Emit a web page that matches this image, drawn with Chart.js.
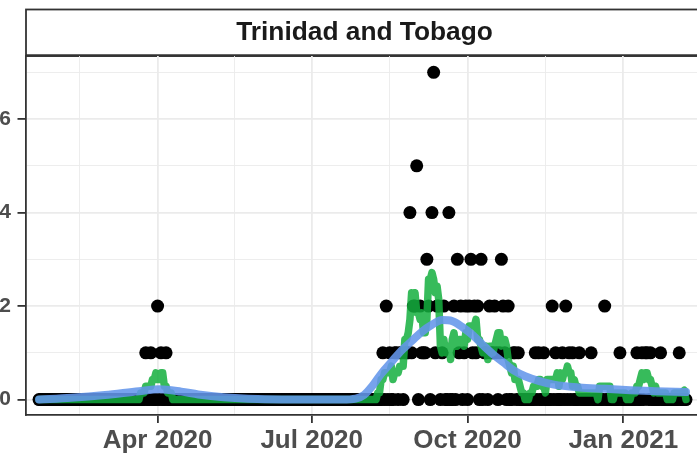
<!DOCTYPE html>
<html>
<head>
<meta charset="utf-8">
<script src="https://cdn.jsdelivr.net/npm/chart.js@4"></script>
<style>
  html, body { margin: 0; padding: 0; background: #fff; overflow: hidden; }
  canvas { display: block; }
</style>
</head>
<body>
<canvas id="deathsChart" width="697" height="454"></canvas>
<script>
// daily deaths, one value per day starting 2020-01-22 (day 21 counted from 2020-01-01)
const firstDay = 21;
const dailyDeaths = [
    0,0,0,0,0,0,0,0,0,0,
    0,0,0,0,0,0,0,0,0,0,
    0,0,0,0,0,0,0,0,0,0,
    0,0,0,0,0,0,0,0,0,0,
    0,0,0,0,0,0,0,0,0,0,
    0,0,0,0,0,0,0,0,0,0,
    0,0,0,1,0,0,1,0,0,0,
    2,0,1,0,0,1,0,0,0,0,
    0,0,0,0,0,0,0,0,0,0,
    0,0,0,0,0,0,0,0,0,0,
    0,0,0,0,0,0,0,0,0,0,
    0,0,0,0,0,0,0,0,0,0,
    0,0,0,0,0,0,0,0,0,0,
    0,0,0,0,0,0,0,0,0,0,
    0,0,0,0,0,0,0,0,0,0,
    0,0,0,0,0,0,0,0,0,0,
    0,0,0,0,0,0,0,0,0,0,
    0,0,0,0,0,0,0,0,0,0,
    0,0,0,0,0,0,0,0,0,0,
    0,0,0,0,0,0,0,0,0,0,
    0,0,0,1,0,2,0,1,0,0,
    1,1,0,1,1,0,1,1,1,4,
    1,2,2,5,0,2,1,1,1,3,
    2,0,4,7,1,2,2,0,1,2,
    0,0,4,0,0,2,0,3,1,2,
    0,1,2,0,2,3,1,2,1,2,
    0,3,0,1,1,0,2,1,1,2,
    1,0,1,3,2,1,0,2,0,0,
    1,1,0,1,0,0,0,0,0,0,
    0,0,0,1,0,1,0,0,1,0,
    0,0,0,2,0,1,0,0,0,1,
    0,2,0,1,0,1,0,0,0,1,
    0,0,0,0,0,0,1,0,0,0,
    0,0,0,0,2,0,0,0,0,0,
    0,0,0,1,0,0,0,0,0,0,
    0,0,0,1,0,0,1,0,1,1,
    0,1,0,0,0,0,0,1,0,0,
    0,0,0,0,0,0,0,0,1,0,
    0,0,0
];

// smooth trend (blue)
const smoothDays = [21, 40, 60, 80, 92, 105, 115, 130, 150, 170, 200, 208, 213, 218, 223, 229, 235, 241, 247, 253, 259, 265, 271, 277, 283, 289, 295, 301, 308, 316, 325, 340, 355, 370, 385, 403];
const smoothValues = [0, 0.04, 0.1, 0.18, 0.22, 0.17, 0.11, 0.05, 0.01, 0, 0, 0.02, 0.1, 0.3, 0.55, 0.8, 1.05, 1.25, 1.45, 1.6, 1.7, 1.68, 1.55, 1.38, 1.17, 0.97, 0.8, 0.63, 0.5, 0.4, 0.32, 0.26, 0.23, 0.2, 0.18, 0.16];

// axis ticks (days from 2020-01-01); empty label = minor grid line
const xTickDays = [45, 91, 136.5, 182, 228, 274, 320, 366];
const xTickLabels = ['', 'Apr 2020', '', 'Jul 2020', '', 'Oct 2020', '', 'Jan 2021'];
const yTickValues = [0, 1, 2, 3, 4, 5, 6, 7];
const yTickLabels = ['0', '', '2', '', '4', '', '6', ''];
const panelTitle = 'Trinidad and Tobago';

// centred 7 day average
function rollingMean(vals, k) {
    const h = Math.floor(k / 2);
    return vals.map((_, i) => {
        let s = 0, n = 0;
        for (let j = i - h; j <= i + h; j++) {
            if (j >= 0 && j < vals.length) { s += vals[j]; n++; }
        }
        return s / n;
    });
}

const avgDeaths = rollingMean(dailyDeaths, 7);
const dotPoints = dailyDeaths.map((v, i) => ({ x: firstDay + i, y: v }));
const avgPoints = avgDeaths.map((v, i) => ({ x: firstDay + i, y: v }));
const smoothPoints = smoothDays.map((d, i) => ({ x: d, y: smoothValues[i] }));

Chart.defaults.font.family = '"Liberation Sans", Arial, sans-serif';

// facet strip above the panel
const facetStrip = {
    id: 'facetStrip',
    beforeDraw(chart) {
        const { ctx, chartArea } = chart;
        ctx.save();
        ctx.strokeStyle = '#333333';
        ctx.lineWidth = 1.8;
        ctx.strokeRect(chartArea.left, 9.5, chart.width + 20, chartArea.top - 9.5);
        ctx.lineWidth = 2.6;
        ctx.beginPath();
        ctx.moveTo(chartArea.left, chartArea.top - 0.5);
        ctx.lineTo(chart.width + 5, chartArea.top - 0.5);
        ctx.stroke();
        ctx.fillStyle = '#1A1A1A';
        ctx.font = 'bold 26.3px "Liberation Sans", Arial, sans-serif';
        ctx.textAlign = 'center';
        ctx.textBaseline = 'middle';
        ctx.fillText(panelTitle, 364.5, 33);
        ctx.restore();
    }
};

const isMajorX = v => xTickLabels[xTickDays.indexOf(v)] !== '';
const isMajorY = v => v % 2 === 0;

const deathsChart = document.getElementById('deathsChart');

new Chart(deathsChart, {
    type: 'scatter',
    data: {
        datasets: [{
                label: 'smooth',
                data: smoothPoints,
                showLine: true,
                borderColor: 'rgba(100,150,235,0.88)',
                borderWidth: 8,
                pointRadius: 0,
                cubicInterpolationMode: 'monotone',
                borderCapStyle: 'round',
                borderJoinStyle: 'round',
                order: 1
            },
            {
                label: '7 day average',
                data: avgPoints,
                showLine: true,
                borderColor: 'rgba(20,175,62,0.85)',
                borderWidth: 7.5,
                pointRadius: 0,
                borderCapStyle: 'round',
                borderJoinStyle: 'round',
                order: 2
            },
            {
                label: 'daily deaths',
                data: dotPoints,
                backgroundColor: '#000000',
                borderWidth: 0,
                pointRadius: 6.5,
                order: 3
            }
        ]
    },
    options: {
        responsive: false,
        animation: false,
        layout: {
            autoPadding: false,
            padding: { top: 56, left: 0, right: 0, bottom: 0 }
        },
        plugins: {
            legend: { display: false },
            tooltip: { enabled: false }
        },
        scales: {
            x: {
                type: 'linear',
                min: 13.3,
                max: 409.5,
                afterBuildTicks: s => { s.ticks = xTickDays.map(v => ({ value: v })); },
                afterFit: s => { s.height = 39; },
                ticks: {
                    autoSkip: false,
                    maxRotation: 0,
                    padding: 2,
                    color: '#4D4D4D',
                    font: { size: 26, weight: 'bold' },
                    callback: v => xTickLabels[xTickDays.indexOf(v)]
                },
                grid: {
                    color: '#EBEBEB',
                    lineWidth: c => (c.tick && isMajorX(c.tick.value)) ? 1.8 : 0.9,
                    tickColor: c => (c.tick && isMajorX(c.tick.value)) ? '#333333' : 'rgba(0,0,0,0)',
                    tickWidth: 1.8,
                    tickLength: 8
                },
                border: { color: '#333333', width: 1.8 }
            },
            y: {
                min: -0.33,
                max: 7.35,
                afterBuildTicks: s => { s.ticks = yTickValues.map(v => ({ value: v })); },
                afterFit: s => { s.width = 26; },
                ticks: {
                    padding: 6.5,
                    color: '#4D4D4D',
                    font: { size: 21, weight: 'bold' },
                    callback: v => yTickLabels[yTickValues.indexOf(v)]
                },
                grid: {
                    color: '#EBEBEB',
                    lineWidth: c => (c.tick && isMajorY(c.tick.value)) ? 1.8 : 0.9,
                    tickColor: c => (c.tick && isMajorY(c.tick.value)) ? '#333333' : 'rgba(0,0,0,0)',
                    tickWidth: 1.8,
                    tickLength: 8.5
                },
                border: { color: '#333333', width: 1.8 }
            }
        }
    },
    plugins: [facetStrip]
});
</script>
</body>
</html>
